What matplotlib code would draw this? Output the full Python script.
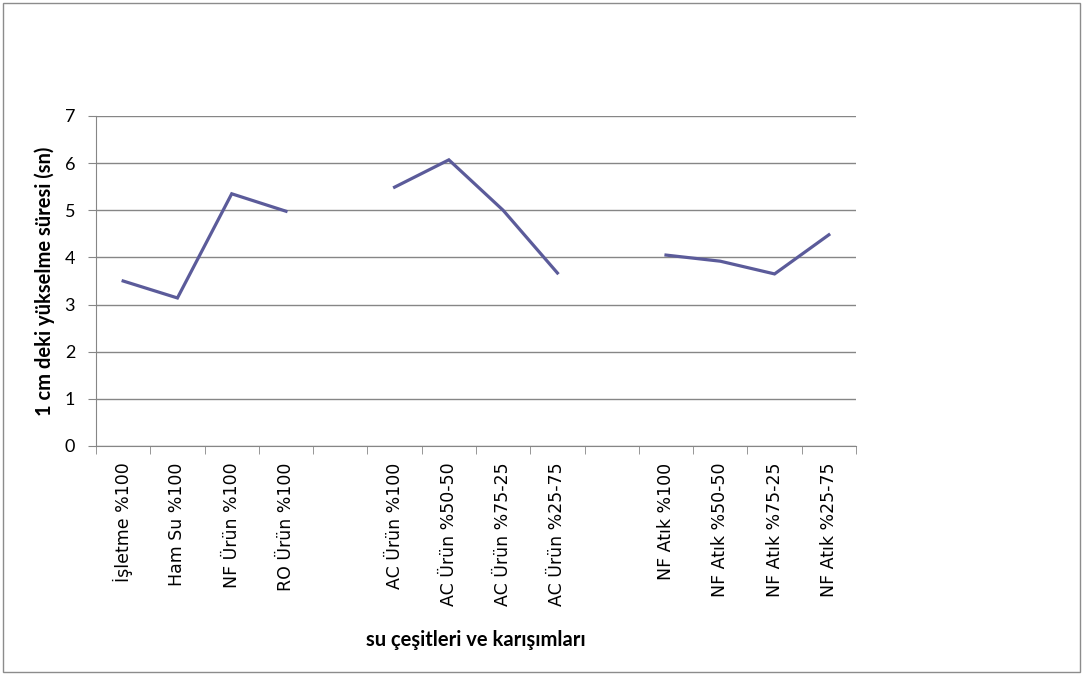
import numpy as np
import matplotlib.pyplot as plt
from matplotlib.patches import Rectangle

# categories in the order they sit on the axis; "" is an empty slot between groups
categories = ["İşletme %100", "Ham Su %100", "NF Ürün %100", "RO Ürün %100", "",
              "AC Ürün %100", "AC Ürün %50-50", "AC Ürün %75-25", "AC Ürün %25-75", "",
              "NF Atık %100", "NF Atık %50-50", "NF Atık %75-25", "NF Atık %25-75"]
rise_time = [3.50, 3.14, 5.35, 4.98, None,
             5.49, 6.07, 5.00, 3.67, None,
             4.05, 3.92, 3.65, 4.48]

plt.rcParams['font.family'] = ['Lato', 'DejaVu Sans']

y = np.array([np.nan if v is None else v for v in rise_time], dtype=float)
x = np.arange(len(categories))

fig = plt.figure(figsize=(10.85, 6.75), dpi=100)
ax = fig.add_axes([96 / 1085, 1 - 446 / 675, 760 / 1085, 330 / 675])

# outer chart border
fig.patches.append(Rectangle((3 / 1085, 3 / 675), 1077 / 1085, 669 / 675,
                             transform=fig.transFigure, fill=False,
                             edgecolor='#8c8c8c', linewidth=1.0))

ax.plot(x, y, color='#5b5b9a', linewidth=2.3, solid_joinstyle='miter')

ax.set_xlim(-0.5, len(categories) - 0.5)
ax.set_ylim(0, 7)
ax.set_yticks(range(0, 8))
ax.yaxis.grid(True, color='#868686', linewidth=1.0)
ax.set_axisbelow(True)

ax.set_xticks(x)
ax.set_xticklabels(categories, rotation=90, fontsize=12.5, family='DejaVu Sans')
ax.set_xticks(np.arange(-0.5, len(categories)), minor=True)
ax.tick_params(axis='x', which='major', length=0, pad=12)
ax.tick_params(axis='x', which='minor', length=6, color='#868686', direction='out')
ax.tick_params(axis='y', length=6, color='#868686', labelsize=13, pad=9)

for side in ['top', 'right']:
    ax.spines[side].set_visible(False)
for side in ['left', 'bottom']:
    ax.spines[side].set_color('#868686')

ax.set_ylabel("1 cm deki yükselme süresi (sn)", fontsize=14.5, fontweight='bold')
ax.yaxis.set_label_coords(-0.067, 0.5)
ax.yaxis.label.set_va('center')
ax.set_xlabel("su çeşitleri ve karışımları", fontsize=14.5, fontweight='bold')
ax.xaxis.set_label_coords(0.5, -0.588)
ax.xaxis.label.set_va('center')

fig.savefig("out.png", dpi=100)
